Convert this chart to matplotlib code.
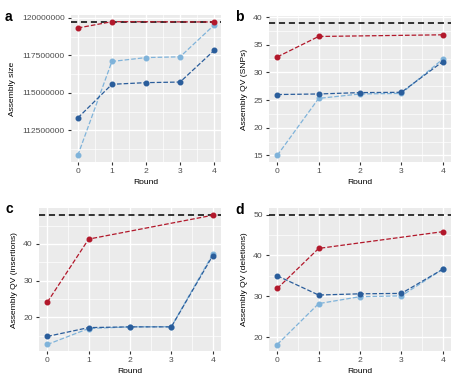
import matplotlib
matplotlib.use("Agg")
import matplotlib.pyplot as plt
from matplotlib.ticker import FixedLocator, FuncFormatter

plt.rcParams['font.family'] = ['Liberation Sans', 'DejaVu Sans']

rounds = [0, 1, 2, 3, 4]
red_rounds = [0, 1, 4]

# Panel a: assembly size
a_red = [119320000, 119740000, 119720000]
a_dark = [113330000, 115570000, 115680000, 115720000, 117830000]
a_light = [110840000, 117090000, 117350000, 117400000, 119520000]
a_ref = 119720000

# Panel b: QV (SNPs)
b_red = [32.8, 36.5, 36.8]
b_dark = [26.0, 26.1, 26.35, 26.4, 31.95]
b_light = [15.0, 25.3, 26.1, 26.2, 32.4]
b_ref = 39.0

# Panel c: QV (insertions)
c_red = [24.1, 41.3, 47.8]
c_dark = [14.8, 17.2, 17.4, 17.4, 36.8]
c_light = [12.6, 16.95, 17.4, 17.45, 37.2]
c_ref = 48.0

# Panel d: QV (deletions)
d_red = [31.9, 41.7, 45.8]
d_dark = [35.0, 30.3, 30.6, 30.7, 36.6]
d_light = [18.2, 28.2, 29.9, 30.1, 36.6]
d_ref = 50.0

panels = [
    ("a", "Assembly size", a_red, a_dark, a_light, a_ref,
     [112500000, 115000000, 117500000, 120000000]),
    ("b", "Assembly QV (SNPs)", b_red, b_dark, b_light, b_ref,
     [15, 20, 25, 30, 35, 40]),
    ("c", "Assembly QV (insertions)", c_red, c_dark, c_light, c_ref,
     [20, 30, 40]),
    ("d", "Assembly QV (deletions)", d_red, d_dark, d_light, d_ref,
     [20, 30, 40, 50]),
]

RED = "#B2182B"
DARK = "#2A5D9B"
LIGHT = "#7FB3DA"

W, H = 461, 387
fig = plt.figure(figsize=(W / 100, H / 100), dpi=100)

# pixel boxes: left, right, top, bottom
boxes = [
    (71, 221, 15, 162),
    (269, 451, 16, 162),
    (39, 221, 208, 351),
    (269, 451, 208, 351),
]
label_pos = {"a": (5, 17), "b": (235, 17), "c": (5, 209), "d": (235, 210)}

FS = 6.1

for (lab, ylab, red, dark, light, ref, yticks), (l, r, t, b) in zip(panels, boxes):
    ax = fig.add_axes([l / W, 1 - b / H, (r - l) / W, (b - t) / H])
    ax.set_facecolor("#EBEBEB")
    for s in ax.spines.values():
        s.set_visible(False)

    allv = red + dark + light + [ref]
    lo, hi = min(allv), max(allv)
    pad = (hi - lo) * 0.05
    ax.set_ylim(lo - pad, hi + pad)
    ax.set_xlim(-0.2, 4.2)

    ax.set_xticks(rounds)
    ax.set_yticks(yticks)
    ax.yaxis.set_major_formatter(FuncFormatter(lambda v, p: f"{v:.0f}"))
    step = yticks[1] - yticks[0]
    minor_y = [v - step / 2 for v in yticks] + [yticks[-1] + step / 2]
    ax.yaxis.set_minor_locator(FixedLocator(minor_y))
    ax.xaxis.set_minor_locator(FixedLocator([0.5, 1.5, 2.5, 3.5]))
    ax.grid(which="major", color="white", linewidth=1.0)
    ax.grid(which="minor", color="white", linewidth=0.5)
    ax.set_axisbelow(True)
    ax.tick_params(which="major", length=2.5, width=0.8, color="#333333",
                   labelsize=FS, labelcolor="#4D4D4D", pad=2)
    ax.tick_params(which="minor", length=0)

    ax.axhline(ref, color="black", linestyle=(0, (4, 2.5)), linewidth=1.1, zorder=3)

    ax.plot(rounds, light, linestyle="--", color=LIGHT, linewidth=0.9,
            marker="o", markersize=3.3, zorder=4)
    ax.plot(rounds, dark, linestyle="--", color=DARK, linewidth=0.9,
            marker="o", markersize=3.3, zorder=5)
    ax.plot(red_rounds, red, linestyle="--", color=RED, linewidth=0.9,
            marker="o", markersize=3.3, zorder=6)

    ax.set_xlabel("Round", fontsize=FS, labelpad=2.5)
    ax.set_ylabel(ylab, fontsize=FS, labelpad=4)

    lx, ly = label_pos[lab]
    fig.text(lx / W, 1 - ly / H, lab, fontsize=10, fontweight="bold",
             ha="left", va="center")

fig.savefig("out.png", dpi=100)
